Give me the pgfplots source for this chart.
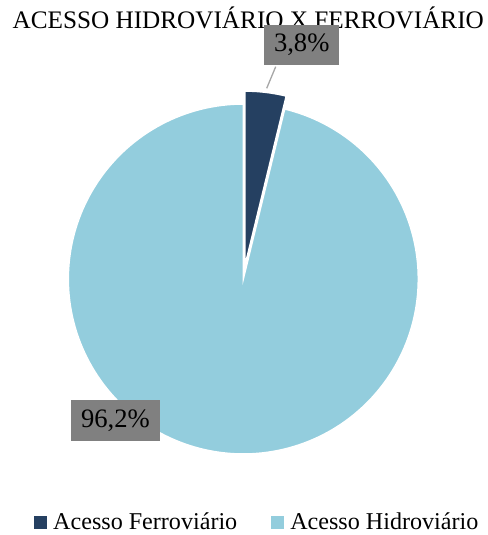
\documentclass[border=0pt]{standalone}
\usepackage{fontspec}
\setmainfont{Liberation Serif}
\usepackage{pgfplots}
\pgfplotsset{compat=1.18}
\definecolor{navy}{HTML}{254061}
\definecolor{aqua}{HTML}{93CDDD}
\definecolor{lblgray}{HTML}{808080}
\definecolor{leader}{HTML}{A6A6A6}
\begin{document}
\begin{tikzpicture}
\path[use as bounding box] (0,0) rectangle (488bp,535bp);
% data (percent)
\def\vFerro{3.8}
\def\vHidro{96.2}
\def\cx{243.3}
\def\cy{256}
\def\R{175}
\pgfmathsetmacro\aF{90-\vFerro*3.6}
\pgfmathsetmacro\aH{\aF-\vHidro*3.6}
\pgfmathsetmacro\bis{90-\vFerro*1.8}
\pgfmathsetmacro\ex{\cx+13*cos(\bis)}
\pgfmathsetmacro\ey{\cy+13*sin(\bis)}
\begin{axis}[at={(0,0)}, anchor=south west, scale only axis,
  width=488bp, height=535bp, xmin=0, xmax=488, ymin=0, ymax=535,
  hide axis, clip=false,
  legend columns=2,
  legend style={draw=none, fill=none, inner xsep=0pt, inner ysep=0pt,
    at={(axis cs:34,1.5)}, anchor=south west,
    font=\fontsize{24.2}{27}\selectfont,
    /tikz/every odd column/.append style={column sep=4bp},
    /tikz/every even column/.append style={column sep=32bp}},
  legend cell align=left,
  legend image code/.code={\fill[#1,draw=none] (0bp,-6.5bp) rectangle (13bp,6.5bp);}]
\addplot[fill=navy, draw=white, line width=1.5bp, domain=\aF:90, samples=25, variable=\t]
  ({\ex+\R*cos(\t)},{\ey+\R*sin(\t)}) -- (axis cs:\ex,\ey) -- cycle;
\addlegendentry{Acesso Ferroviário}
\addplot[fill=aqua, draw=white, line width=1.5bp, domain=\aH:\aF, samples=200, variable=\t]
  ({\cx+\R*cos(\t)},{\cy+\R*sin(\t)}) -- (axis cs:\cx,\cy) -- cycle;
\addlegendentry{Acesso Hidroviário}
\node[anchor=base, font=\fontsize{25.3}{28}\selectfont] at (axis cs:248.3,506.7) {ACESSO HIDROVIÁRIO X FERROVIÁRIO};
\draw[leader, line width=1.3bp] (axis cs:275.7,468.3) -- (axis cs:266.7,446.7);
\node[fill=lblgray, minimum width=74.7bp, minimum height=40bp, inner sep=0pt,
  font=\fontsize{26.7}{30}\selectfont] at (axis cs:301.7,490) {3,8\%};
\node[fill=lblgray, minimum width=89bp, minimum height=40.7bp, inner sep=0pt,
  font=\fontsize{26.7}{30}\selectfont] at (axis cs:115.5,114.7) {96,2\%};
\end{axis}
\end{tikzpicture}
\end{document}
